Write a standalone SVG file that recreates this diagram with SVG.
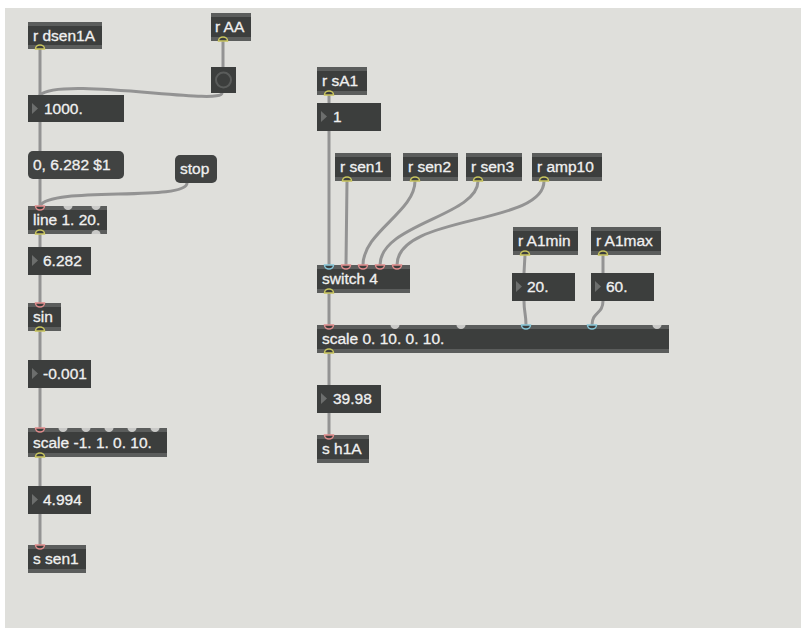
<svg xmlns="http://www.w3.org/2000/svg" width="801" height="628" viewBox="0 0 801 628">
<style>
.bg{fill:#dfdfdb}
.body{fill:#3c3e3d}
.strip{fill:#5b5d5c}
.msg{fill:#414342}
.t{font-family:"Liberation Sans",Arial,sans-serif;font-size:15.5px;fill:#f0f0f0;stroke:#f0f0f0;stroke-width:0.3}
.tri{fill:#6c6e6d}
.cable{fill:none;stroke:#939393;stroke-width:3;stroke-linecap:round}
.po{fill:#3c3e3d;stroke:#c8c45e;stroke-width:1.5}
.pi{fill:#3c3e3d;stroke:#e08c8c;stroke-width:1.5}
.pc{fill:#3c3e3d;stroke:#86c6d8;stroke-width:1.5}
.pg{fill:#c9c9c7}
</style>
<defs>
<path id="inl" d="M-4.5,0 A4.5,4 0 0 0 4.5,0 Z"/>
<path id="outl" d="M-4.5,0 A4.5,4 0 0 1 4.5,0 Z"/>
<path id="tri" d="M4,8 L10,13.5 L4,19 Z"/>
</defs>
<rect width="801" height="628" fill="#ffffff"/>
<rect class="bg" x="5" y="8" width="796" height="620"/>

<g id="connectors">
<path class="cable" d="M40,49 L40,95"/>
<path class="cable" d="M223,41 L223,67"/>
<path class="cable" d="M222,93 C222,106 60,76 40,95"/>
<path class="cable" d="M40,122 L40,151"/>
<path class="cable" d="M40,179 L40,206"/>
<path class="cable" d="M187,183 C187,202 50,186 40,206"/>
<path class="cable" d="M40,234 L40,247"/>
<path class="cable" d="M40,275 L40,303"/>
<path class="cable" d="M40,331 L40,360"/>
<path class="cable" d="M40,388 L40,428"/>
<path class="cable" d="M40,457 L40,486"/>
<path class="cable" d="M40,514 L40,545"/>
<path class="cable" d="M329,95 L329,103"/>
<path class="cable" d="M329,131 L329,265"/>
<path class="cable" d="M347,181 L346,265"/>
<path class="cable" d="M415,181 C415,212 363,232 363,265"/>
<path class="cable" d="M478,181 C478,216 380,224 380,265"/>
<path class="cable" d="M544,181 C544,226 397,214 397,265"/>
<path class="cable" d="M329,293 L329,325"/>
<path class="cable" d="M525,255 L524,273"/>
<path class="cable" d="M524,301 C524,312 526,314 526,325"/>
<path class="cable" d="M603,255 L603,273"/>
<path class="cable" d="M603,301 C603,314 592,312 592,325"/>
<path class="cable" d="M329,353 L329,385"/>
<path class="cable" d="M329,413 L329,435"/>
</g>

<g id="r_dsen1A">
<rect class="body" x="28" y="22" width="74" height="27"/>
<rect class="strip" x="28" y="22" width="74" height="4"/>
<rect class="strip" x="28" y="45" width="74" height="4"/>
<text class="t" x="33" y="41">r dsen1A</text>
<use href="#outl" class="po" x="40" y="49"/>
</g>

<g id="r_AA">
<rect class="body" x="211" y="13" width="40" height="28"/>
<rect class="strip" x="211" y="13" width="40" height="4"/>
<rect class="strip" x="211" y="37" width="40" height="4"/>
<text class="t" x="215" y="32">r AA</text>
<use href="#outl" class="po" x="223" y="41"/>
</g>

<g id="button">
<rect class="body" x="211" y="67" width="25" height="26"/>
<circle cx="223.5" cy="80" r="7.5" fill="none" stroke="#5a5c5b" stroke-width="2"/>
</g>

<g id="num_1000">
<rect class="body" x="28" y="95" width="96" height="27"/>
<use href="#tri" class="tri" x="28" y="95"/>
<text class="t" x="44" y="114">1000.</text>
</g>

<g id="msg_ramp">
<rect class="msg" x="28" y="151" width="96" height="28" rx="5"/>
<text class="t" x="33" y="170">0, 6.282 $1</text>
</g>

<g id="msg_stop">
<rect class="msg" x="175" y="155" width="42" height="28" rx="5"/>
<text class="t" x="180" y="174">stop</text>
</g>

<g id="line">
<rect class="body" x="28" y="206" width="79" height="28"/>
<rect class="strip" x="28" y="206" width="79" height="4"/>
<rect class="strip" x="28" y="230" width="79" height="4"/>
<text class="t" x="33" y="225">line 1. 20.</text>
<use href="#inl" class="pi" x="40" y="206"/>
<use href="#inl" class="pg" x="68" y="206"/>
<use href="#inl" class="pg" x="96" y="206"/>
<use href="#outl" class="po" x="40" y="234"/>
<use href="#outl" class="pg" x="96" y="234"/>
</g>

<g id="num_6282">
<rect class="body" x="28" y="247" width="63" height="28"/>
<use href="#tri" class="tri" x="28" y="247"/>
<text class="t" x="43" y="266">6.282</text>
</g>

<g id="sin">
<rect class="body" x="28" y="303" width="33" height="28"/>
<rect class="strip" x="28" y="303" width="33" height="4"/>
<rect class="strip" x="28" y="327" width="33" height="4"/>
<text class="t" x="33" y="322">sin</text>
<use href="#inl" class="pi" x="40" y="303"/>
<use href="#outl" class="po" x="40" y="331"/>
</g>

<g id="num_neg">
<rect class="body" x="28" y="360" width="63" height="28"/>
<use href="#tri" class="tri" x="28" y="360"/>
<text class="t" x="43" y="379">-0.001</text>
</g>

<g id="scale_left">
<rect class="body" x="28" y="428" width="139" height="29"/>
<rect class="strip" x="28" y="428" width="139" height="4"/>
<rect class="strip" x="28" y="453" width="139" height="4"/>
<text class="t" x="33" y="448">scale -1. 1. 0. 10.</text>
<use href="#inl" class="pi" x="40" y="428"/>
<use href="#inl" class="pg" x="63" y="428"/>
<use href="#inl" class="pg" x="86" y="428"/>
<use href="#inl" class="pg" x="109" y="428"/>
<use href="#inl" class="pg" x="132" y="428"/>
<use href="#inl" class="pg" x="155" y="428"/>
<use href="#outl" class="po" x="40" y="457"/>
</g>

<g id="num_4994">
<rect class="body" x="28" y="486" width="63" height="28"/>
<use href="#tri" class="tri" x="28" y="486"/>
<text class="t" x="43" y="505">4.994</text>
</g>

<g id="s_sen1">
<rect class="body" x="28" y="545" width="58" height="28"/>
<rect class="strip" x="28" y="545" width="58" height="4"/>
<rect class="strip" x="28" y="569" width="58" height="4"/>
<text class="t" x="33" y="564">s sen1</text>
<use href="#inl" class="pi" x="40" y="545"/>
</g>

<g id="r_sA1">
<rect class="body" x="317" y="67" width="50" height="28"/>
<rect class="strip" x="317" y="67" width="50" height="4"/>
<rect class="strip" x="317" y="91" width="50" height="4"/>
<text class="t" x="322" y="86">r sA1</text>
<use href="#outl" class="po" x="329" y="95"/>
</g>

<g id="num_1">
<rect class="body" x="317" y="103" width="64" height="28"/>
<use href="#tri" class="tri" x="317" y="103"/>
<text class="t" x="333" y="122">1</text>
</g>

<g id="r_sen1">
<rect class="body" x="335" y="153" width="56" height="28"/>
<rect class="strip" x="335" y="153" width="56" height="4"/>
<rect class="strip" x="335" y="177" width="56" height="4"/>
<text class="t" x="340" y="172">r sen1</text>
<use href="#outl" class="po" x="347" y="181"/>
</g>

<g id="r_sen2">
<rect class="body" x="403" y="153" width="55" height="28"/>
<rect class="strip" x="403" y="153" width="55" height="4"/>
<rect class="strip" x="403" y="177" width="55" height="4"/>
<text class="t" x="408" y="172">r sen2</text>
<use href="#outl" class="po" x="415" y="181"/>
</g>

<g id="r_sen3">
<rect class="body" x="466" y="153" width="56" height="28"/>
<rect class="strip" x="466" y="153" width="56" height="4"/>
<rect class="strip" x="466" y="177" width="56" height="4"/>
<text class="t" x="471" y="172">r sen3</text>
<use href="#outl" class="po" x="478" y="181"/>
</g>

<g id="r_amp10">
<rect class="body" x="532" y="153" width="70" height="28"/>
<rect class="strip" x="532" y="153" width="70" height="4"/>
<rect class="strip" x="532" y="177" width="70" height="4"/>
<text class="t" x="537" y="172">r amp10</text>
<use href="#outl" class="po" x="544" y="181"/>
</g>

<g id="switch4">
<rect class="body" x="317" y="265" width="93" height="28"/>
<rect class="strip" x="317" y="265" width="93" height="4"/>
<rect class="strip" x="317" y="289" width="93" height="4"/>
<text class="t" x="322" y="284">switch 4</text>
<use href="#inl" class="pc" x="329" y="265"/>
<use href="#inl" class="pi" x="346" y="265"/>
<use href="#inl" class="pi" x="363" y="265"/>
<use href="#inl" class="pi" x="380" y="265"/>
<use href="#inl" class="pi" x="397" y="265"/>
<use href="#outl" class="po" x="329" y="293"/>
</g>

<g id="r_A1min">
<rect class="body" x="513" y="227" width="65" height="28"/>
<rect class="strip" x="513" y="227" width="65" height="4"/>
<rect class="strip" x="513" y="251" width="65" height="4"/>
<text class="t" x="518" y="246">r A1min</text>
<use href="#outl" class="po" x="525" y="255"/>
</g>

<g id="r_A1max">
<rect class="body" x="591" y="227" width="70" height="28"/>
<rect class="strip" x="591" y="227" width="70" height="4"/>
<rect class="strip" x="591" y="251" width="70" height="4"/>
<text class="t" x="596" y="246">r A1max</text>
<use href="#outl" class="po" x="603" y="255"/>
</g>

<g id="num_20">
<rect class="body" x="512" y="273" width="63" height="28"/>
<use href="#tri" class="tri" x="512" y="273"/>
<text class="t" x="527" y="292">20.</text>
</g>

<g id="num_60">
<rect class="body" x="591" y="273" width="63" height="28"/>
<use href="#tri" class="tri" x="591" y="273"/>
<text class="t" x="606" y="292">60.</text>
</g>

<g id="scale_right">
<rect class="body" x="317" y="325" width="352" height="28"/>
<rect class="strip" x="317" y="325" width="352" height="4"/>
<rect class="strip" x="317" y="349" width="352" height="4"/>
<text class="t" x="322" y="344">scale 0. 10. 0. 10.</text>
<use href="#inl" class="pi" x="329" y="325"/>
<use href="#inl" class="pg" x="395" y="325"/>
<use href="#inl" class="pg" x="461" y="325"/>
<use href="#inl" class="pc" x="526" y="325"/>
<use href="#inl" class="pc" x="592" y="325"/>
<use href="#inl" class="pg" x="657" y="325"/>
<use href="#outl" class="po" x="329" y="353"/>
</g>

<g id="num_3998">
<rect class="body" x="317" y="385" width="64" height="28"/>
<use href="#tri" class="tri" x="317" y="385"/>
<text class="t" x="333" y="404">39.98</text>
</g>

<g id="s_h1A">
<rect class="body" x="317" y="435" width="52" height="28"/>
<rect class="strip" x="317" y="435" width="52" height="4"/>
<rect class="strip" x="317" y="459" width="52" height="4"/>
<text class="t" x="322" y="454">s h1A</text>
<use href="#inl" class="pi" x="329" y="435"/>
</g>
</svg>
